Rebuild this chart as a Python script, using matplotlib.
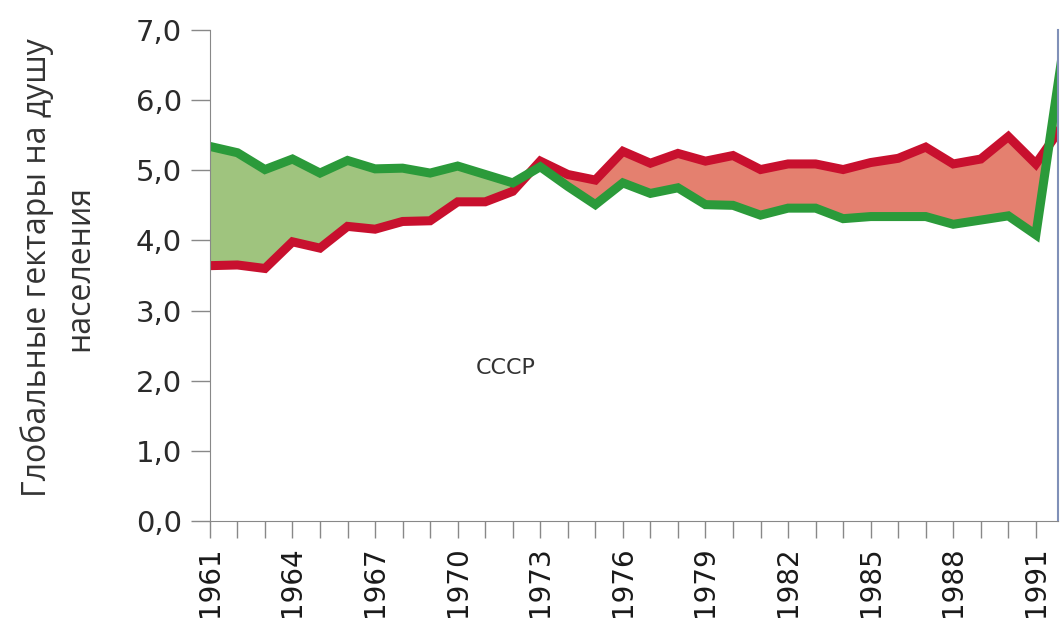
import matplotlib
matplotlib.use('Agg')
import matplotlib.pyplot as plt
import numpy as np

years = list(range(1961, 1993))
# биоемкость (зелёная) и экологический след (красная), гга на душу
biocap = [5.34, 5.25, 5.01, 5.16, 4.96, 5.14, 5.02, 5.03, 4.96, 5.06,
          4.94, 4.82, 5.05, 4.77, 4.51, 4.82, 4.67, 4.75, 4.51, 4.50,
          4.36, 4.46, 4.46, 4.31, 4.34, 4.34, 4.34, 4.23, 4.29, 4.35,
          4.08, 6.75]
footprint = [3.64, 3.65, 3.60, 3.98, 3.89, 4.20, 4.16, 4.27, 4.28, 4.55,
             4.55, 4.70, 5.13, 4.94, 4.86, 5.27, 5.10, 5.24, 5.13, 5.21,
             5.01, 5.09, 5.09, 5.01, 5.11, 5.17, 5.33, 5.09, 5.16, 5.48,
             5.09, 5.65]
yticks = [0, 1, 2, 3, 4, 5, 6, 7]
ytick_labels = ['0,0', '1,0', '2,0', '3,0', '4,0', '5,0', '6,0', '7,0']
ylabel = 'Глобальные гектары на душу\nнаселения'
country = 'СССР'

x = np.array(years)
g = np.array(biocap)
r = np.array(footprint)

fig = plt.figure(figsize=(10.6, 6.32), dpi=100)
ax = fig.add_axes([0.198, 0.1756, 0.800, 0.777])

ax.fill_between(x, g, r, where=g >= r, interpolate=True, color='#9fc47e', lw=0)
ax.fill_between(x, g, r, where=g < r, interpolate=True, color='#e4806f', lw=0)
ax.plot(x, r, color='#c8102e', lw=6.5, solid_joinstyle='miter')
ax.plot(x, g, color='#2b9a3a', lw=6.5, solid_joinstyle='miter')

ax.set_xlim(1961, 1991.8)
ax.set_ylim(0, 7)

ax.set_yticks(yticks)
ax.set_yticklabels(ytick_labels, fontsize=21, color='#2a2a2a')
ax.set_xticks(years[:-1])
ax.set_xticklabels([str(y) if (y - 1961) % 3 == 0 else '' for y in years[:-1]],
                   rotation=90, fontsize=20, color='#1a1a1a')
ax.tick_params(axis='y', length=14, width=1, color='#888888', pad=6)
ax.tick_params(axis='x', length=12, width=1, color='#888888', pad=6)

ax.spines['top'].set_visible(False)
ax.spines['left'].set_color('#888888')
ax.spines['bottom'].set_color('#888888')
ax.spines['right'].set_color('#8090b8')
ax.spines['right'].set_linewidth(1.5)

fig.text(58 / 1060, 1 - 268 / 632, ylabel, rotation=90, fontsize=23,
         family='Open Sans', color='#333333', ha='center', va='center',
         multialignment='center', linespacing=1.35)
ax.text(1971.75, 2.18, country, fontsize=16, color='#333333',
        ha='center', va='center')

fig.savefig('out.png', dpi=100)
